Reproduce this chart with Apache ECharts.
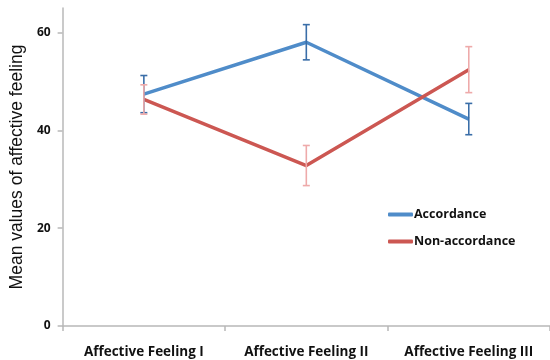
<!DOCTYPE html>
<html><head><meta charset="utf-8">
<script src="https://cdn.jsdelivr.net/npm/echarts@6/dist/echarts.min.js"></script>
<style>html,body{margin:0;padding:0;background:#fff}#c{width:550px;height:360px}</style>
</head><body><div id="c"></div>
<script>
const categories = ['Affective Feeling I', 'Affective Feeling II', 'Affective Feeling III'];
const accordance = [47.4, 58.0, 42.3];
const accordanceErr = [3.8, 3.6, 3.2];
const nonAccordance = [46.3, 32.8, 52.4];
const nonAccordanceErr = [3.0, 4.1, 4.7];
const yTicks = [0, 20, 40, 60];

function errData(vals, errs) {
  return vals.map((v, i) => [i, v - errs[i], v + errs[i]]);
}
function errSeries(vals, errs, color) {
  return {
    type: 'custom', silent: true, z: 3,
    data: errData(vals, errs),
    renderItem: function (params, api) {
      const lo = api.coord([api.value(0), api.value(1)]);
      const hi = api.coord([api.value(0), api.value(2)]);
      const w = 3.5;
      const st = { stroke: color, lineWidth: 1.6 };
      return { type: 'group', children: [
        { type: 'line', shape: { x1: hi[0], y1: hi[1], x2: lo[0], y2: lo[1] }, style: st },
        { type: 'line', shape: { x1: hi[0] - w, y1: hi[1], x2: hi[0] + w, y2: hi[1] }, style: st },
        { type: 'line', shape: { x1: lo[0] - w, y1: lo[1], x2: lo[0] + w, y2: lo[1] }, style: st }
      ]};
    }
  };
}

const chart = echarts.init(document.getElementById('c'));
chart.setOption({
  animation: false,
  grid: { left: 60, right: 0, top: 8, bottom: 34, containLabel: false },
  legend: {
    data: ['Accordance', 'Non-accordance'],
    orient: 'vertical', left: 383, top: 203, itemGap: 14,
    icon: 'roundRect', itemWidth: 25, itemHeight: 4,
    textStyle: { fontFamily: 'Open Sans', fontWeight: 'bold', fontSize: 12.5, color: '#111', padding: [0, 0, 0, -4] }
  },
  xAxis: {
    type: 'category', data: categories, boundaryGap: true,
    axisLine: { lineStyle: { color: '#b8b8b8', width: 1.5 } },
    axisTick: { show: true, interval: 0, length: 5, inside: false, lineStyle: { color: '#b8b8b8', width: 1.5 } },
    axisLabel: { interval: 0, hideOverlap: false, margin: 19, fontFamily: 'Open Sans', fontWeight: 'bold', fontSize: 13.5, color: '#111' }
  },
  yAxis: {
    type: 'value', min: 0, max: 65,
    name: 'Mean values of affective feeling', nameLocation: 'middle', nameGap: 36,
    nameTextStyle: { fontFamily: 'Liberation Sans', fontSize: 17.5, color: '#111' },
    splitLine: { show: false },
    axisLine: { show: true, lineStyle: { color: '#b8b8b8', width: 1.5 } },
    axisTick: { show: true, length: 5, customValues: yTicks, lineStyle: { color: '#b8b8b8', width: 1.5 } },
    axisLabel: { customValues: yTicks, margin: 12, fontFamily: 'Open Sans', fontWeight: 'bold', fontSize: 12, color: '#111' }
  },
  series: [
    { name: 'Accordance', type: 'line', data: accordance, showSymbol: false, symbol: 'none', z: 2,
      lineStyle: { color: '#4f8cc9', width: 3.5 }, itemStyle: { color: '#4f8cc9' } },
    { name: 'Non-accordance', type: 'line', data: nonAccordance, showSymbol: false, symbol: 'none', z: 2,
      lineStyle: { color: '#cc5752', width: 3.5 }, itemStyle: { color: '#cc5752' } },
    errSeries(accordance, accordanceErr, '#3a6ea8'),
    errSeries(nonAccordance, nonAccordanceErr, '#eeaaaa')
  ]
});
</script></body></html>
